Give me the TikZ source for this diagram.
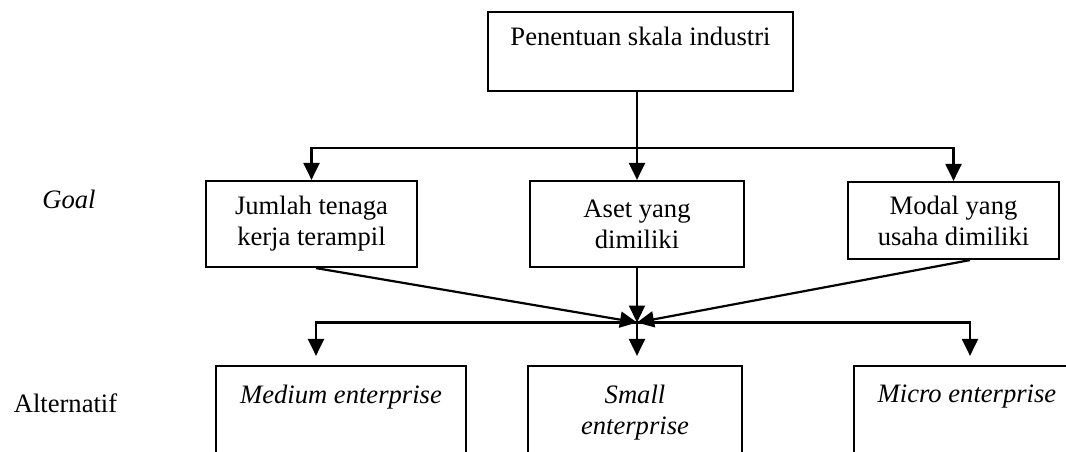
\documentclass[tikz,border=0pt]{standalone}
\usepackage{fontspec}
\setmainfont{Liberation Serif}
\usetikzlibrary{arrows.meta}

\begin{document}
\begin{tikzpicture}[x=1pt,y=-1pt,line width=2.2pt,font=\fontsize{26.6}{31}\selectfont,
  box/.style={draw,inner sep=0pt,align=center},
  toptext/.style={anchor=north,inner sep=#1,align=center},
  arr/.style={-{Triangle[length=17pt,width=16pt]}}]
\useasboundingbox (0,0) rectangle (1066,452);
% hierarchy boxes
\node[box,minimum width=305pt,minimum height=79pt,label={[toptext=15pt]north:Penentuan skala industri}] (top) at (640.5,51.5) {};
\node[box,minimum width=211pt,minimum height=86pt] (a1) at (311.5,224) {Jumlah tenaga\\kerja terampil};
\node[box,minimum width=214pt,minimum height=86pt] (a2) at (637,224) {Aset yang\\dimiliki};
\node[box,minimum width=211pt,minimum height=77pt] (a3) at (953.5,220.5) {Modal yang\\usaha dimiliki};
\node[box,minimum width=250pt,minimum height=114pt,label={[toptext=19pt]north:\textit{Medium enterprise}}] (b1) at (341,423) {};
\node[box,minimum width=214pt,minimum height=114pt,label={[toptext=19pt]north:\textit{Small}\\\textit{enterprise}}] (b2) at (635,423) {};
\node[box,minimum width=226pt,minimum height=114pt,label={[toptext=19pt]north:\textit{Micro enterprise}}] (b3) at (967,423) {};
%\node[anchor=base] (goal) at (69,208) {Goal};
\node[anchor=base] (goal) at (69,208) {\itshape Goal};
\node[anchor=base] (alt) at (65.5,412) {Alternatif};
% connectors
\coordinate (fork) at (637,148);
\coordinate (hub) at (637,322.5);
\coordinate (busL) at (316,322.5);
\coordinate (busR) at (970,322.5);
\draw (top.south -| fork) -- (fork);
\draw[arr] (fork) -| (a1.north);
\draw[arr] (fork) -- (a2.north);
\draw[arr] (fork) -| (a3.north);
\draw[arr] ([xshift=4.5pt]a1.south) -- (hub);
\draw[arr] (a2.south) -- (hub);
\draw[arr] ([xshift=16.5pt]a3.south) -- (hub);
\draw[arr,shorten >=9pt] (hub) -| (busL |- b1.north);
\draw[arr,shorten >=9pt] (hub) -- (hub |- b2.north);
\draw[arr,shorten >=9pt] (hub) -| (busR |- b3.north);
\end{tikzpicture}
\end{document}
